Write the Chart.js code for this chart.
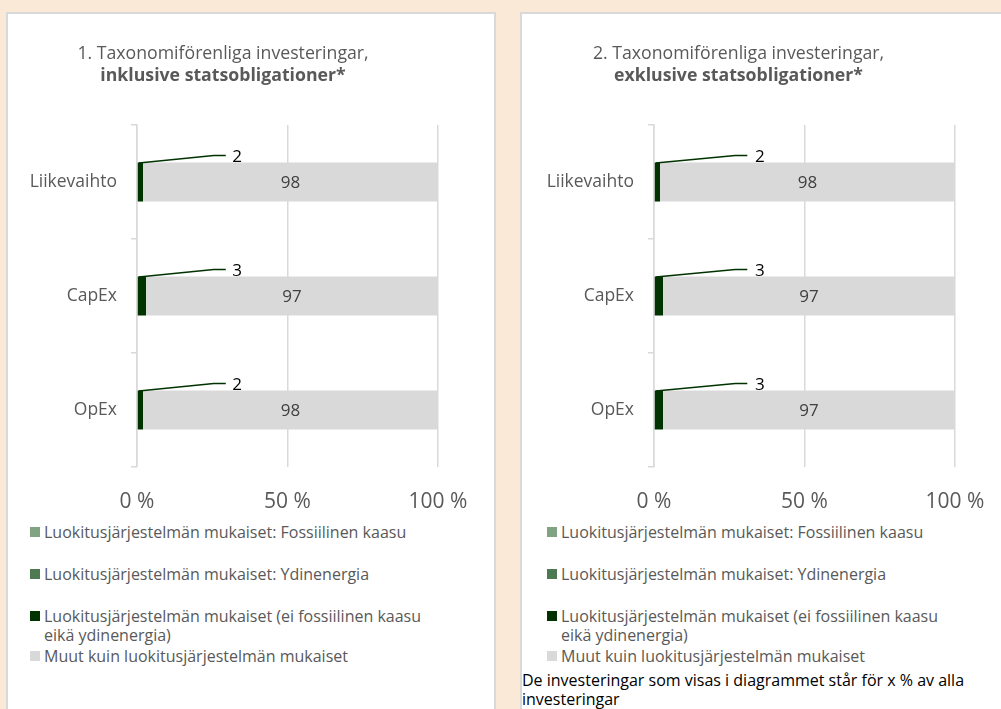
<!DOCTYPE html>
<html>
<head>
<meta charset="utf-8">
<script src="https://cdn.jsdelivr.net/npm/chart.js@4.4.0/dist/chart.umd.min.js"></script>
<style>
  body { margin: 0; width: 1001px; height: 709px; overflow: hidden; position: relative;
         background: #fbe9d8; font-family: 'Open Sans', sans-serif; }
  .panel { position: absolute; top: 12px; height: 720px; background: #fff;
           border: 2px solid #d9d9d9; box-sizing: border-box; }
  canvas { position: absolute; }
  .leg { position: absolute; font-size: 16px; line-height: 19px; color: #595959; width: 400px; }
  .leg i { position: absolute; left: -14px; top: 4px; width: 10px; height: 10px; }
  .note { position: absolute; left: 522px; top: 671px; font-size: 16px; line-height: 19px; color: #000; width: 470px; }
</style>
</head>
<body>
<div class="panel" style="left:6px;width:490px"></div>
<div class="panel" style="left:520px;width:500px"></div>
<canvas id="chartIncl" width="486" height="500" style="left:8px;top:14px"></canvas>
<canvas id="chartExcl" width="476" height="500" style="left:522px;top:14px"></canvas>
<div id="legendIncl"></div>
<div id="legendExcl"></div>
<div class="note">De investeringar som visas i diagrammet står för x % av alla investeringar</div>

<script>
// kategoriat
const categories = ["Liikevaihto", "CapEx", "OpEx"];
const seriesNames = [
    "Luokitusjärjestelmän mukaiset: Fossiilinen kaasu",
    "Luokitusjärjestelmän mukaiset: Ydinenergia",
    "Luokitusjärjestelmän mukaiset (ei fossiilinen kaasu eikä ydinenergia)",
    "Muut kuin luokitusjärjestelmän mukaiset"
];
const seriesColors = ["#82a382", "#4d7a50", "#003300", "#d9d9d9"];
const xTicks = [0, 50, 100];

// 1. inklusive statsobligationer
const gasIncl = [0, 0, 0];
const nuclearIncl = [0, 0, 0];
const alignedIncl = [2, 3, 2];
const otherIncl = [98, 97, 98];

// 2. exklusive statsobligationer
const gasExcl = [0, 0, 0];
const nuclearExcl = [0, 0, 0];
const alignedExcl = [2, 3, 3];
const otherExcl = [98, 97, 97];

Chart.defaults.font.family = "'Open Sans', sans-serif";
Chart.defaults.color = "#595959";

// leader line + labels
const labelPlugin = {
    id: "barLabels",
    afterDatasetsDraw(chart, args, opts) {
        const ctx = chart.ctx;
        const x = chart.scales.x;
        const aligned = chart.getDatasetMeta(2);
        const other = chart.getDatasetMeta(3);
        ctx.save();
        ctx.textAlign = "center";
        ctx.textBaseline = "middle";
        ctx.font = "17px 'Open Sans'";
        aligned.data.forEach((bar, i) => {
            const top = bar.y - bar.height / 2;
            ctx.strokeStyle = seriesColors[2];
            ctx.lineWidth = 1.5;
            ctx.beginPath();
            ctx.moveTo(bar.base + 1, top + 0.5);
            ctx.lineTo(x.getPixelForValue(opts.elbow), top - 7);
            ctx.lineTo(x.getPixelForValue(opts.end), top - 7);
            ctx.stroke();
            ctx.fillStyle = "#000";
            ctx.fillText(chart.data.datasets[2].data[i], x.getPixelForValue(opts.label), top - 5);

            const ob = other.data[i];
            ctx.fillStyle = "#404040";
            ctx.fillText(chart.data.datasets[3].data[i], (ob.base + ob.x) / 2, ob.y + 1);
        });
        ctx.restore();
    }
};

function makeChart(id, titleText, subText, values, yWidth, padRight, leader) {
    const ctx = document.getElementById(id).getContext("2d");
    return new Chart(ctx, {
        type: "bar",
        data: {
            labels: categories,
            datasets: values.map((v, i) => ({
                label: seriesNames[i],
                data: v,
                backgroundColor: seriesColors[i],
                borderWidth: 0,
                categoryPercentage: 1,
                barPercentage: 0.342
            }))
        },
        plugins: [labelPlugin],
        options: {
            indexAxis: "y",
            responsive: false,
            animation: false,
            layout: { padding: { right: padRight } },
            plugins: {
                legend: { display: false },
                tooltip: { enabled: false },
                title: {
                    display: true, text: titleText, color: "#595959",
                    font: { size: 17.7, weight: "normal", lineHeight: 1.2 },
                    padding: { top: 29.5, bottom: 1 }
                },
                subtitle: {
                    display: true, text: subText, color: "#595959",
                    font: { size: 17.7, weight: "bold", lineHeight: 1.2 },
                    padding: { top: 0, bottom: 38.06 }
                },
                barLabels: leader
            },
            scales: {
                x: {
                    stacked: true, min: 0, max: 100,
                    afterBuildTicks(s) { s.ticks = xTicks.map(v => ({ value: v })); },
                    grid: { color: "#d9d9d9", lineWidth: 1.5, drawTicks: false },
                    border: { display: false },
                    ticks: { color: "#595959", font: { size: 21 }, padding: 22, maxRotation: 0,
                             autoSkip: false, callback: v => v + " %" },
                    afterFit(s) { s.height = 47; s.paddingLeft = 0; s.paddingRight = 0; }
                },
                y: {
                    stacked: true,
                    grid: { offset: true, drawOnChartArea: false, tickLength: 6, color: "#d9d9d9", lineWidth: 1.5 },
                    border: { color: "#d9d9d9", width: 1.5 },
                    ticks: { color: "#595959", font: { size: 17.5 }, padding: 14 },
                    afterFit(s) { s.width = yWidth; }
                }
            }
        }
    });
}

function makeLegend(id, left) {
    const box = document.getElementById(id);
    const tops = [523, 565, 607, 647];
    seriesNames.forEach((name, i) => {
        const d = document.createElement("div");
        d.className = "leg";
        d.style.left = left + "px";
        d.style.top = tops[i] + "px";
        d.innerHTML = '<i style="background:' + seriesColors[i] + '"></i>' + name;
        box.appendChild(d);
    });
}

window.addEventListener("load", () => {
    makeChart("chartIncl", "1. Taxonomiförenliga investeringar,", "inklusive statsobligationer*",
        [gasIncl, nuclearIncl, alignedIncl, otherIncl], 129, 56,
        { elbow: 25.5, end: 29.5, label: 33.3 });
    makeChart("chartExcl", "2. Taxonomiförenliga investeringar,", "exklusive statsobligationer*",
        [gasExcl, nuclearExcl, alignedExcl, otherExcl], 132, 43,
        { elbow: 27, end: 31, label: 35.2 });
    makeLegend("legendIncl", 44);
    makeLegend("legendExcl", 561);
});
</script>
</body>
</html>
